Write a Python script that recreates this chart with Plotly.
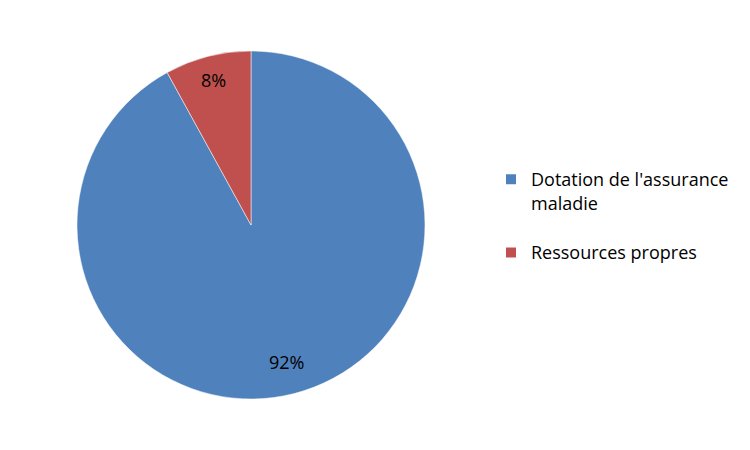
import math
import plotly.graph_objects as go

labels = ["Dotation de l'assurance<br>maladie<br> ", "Ressources propres"]
values = [92, 8]
text_labels = ["92%", "8%"]
colors = ["#4F81BD", "#C0504D"]
names = ["Dotation de l'assurance maladie", "Ressources propres"]

W, H = 750, 450
CX, CY, R = 251, 225, 174   # desired pie centre/radius in pixels
SHIFT = 8                   # page body margin offset compensation

def px_x(px):
    return (px - SHIFT) / W

def px_y(py):
    return 1 - (py - SHIFT) / H

fig = go.Figure(go.Pie(
    labels=labels,
    values=values,
    customdata=names,
    textinfo="none",
    marker=dict(colors=colors, line=dict(color="white", width=0.5)),
    sort=False,
    direction="clockwise",
    rotation=0,
    domain=dict(x=[px_x(CX - R), px_x(CX + R)],
                y=[px_y(CY + R), px_y(CY - R)]),
    hovertemplate="%{customdata}: %{percent}<extra></extra>",
))

# percentage labels placed at each slice's mid-angle
total = sum(values)
cum = 0
fracs = [0.81, 0.86]
annotations = []
for v, t, f in zip(values, text_labels, fracs):
    mid = (cum + v / 2) / total * 2 * math.pi
    cum += v
    x = px_x(CX + f * R * math.sin(mid))
    y = px_y(CY - f * R * math.cos(mid))
    annotations.append(dict(x=x, y=y, xref="paper", yref="paper", text=t,
                            xanchor="center", yanchor="middle",
                            showarrow=False,
                            font=dict(size=18, color="black", family="Open Sans")))

fig.update_layout(
    width=W, height=H,
    margin=dict(l=0, r=0, t=0, b=0),
    paper_bgcolor="white",
    plot_bgcolor="white",
    font=dict(family="Open Sans", size=16, color="black"),
    annotations=annotations,
    legend=dict(x=0.644, y=0.66, xanchor="left", yanchor="top",
                font=dict(size=18, family="Open Sans"),
                valign="top", itemsizing="constant"),
)

fig.write_html("out.html")
